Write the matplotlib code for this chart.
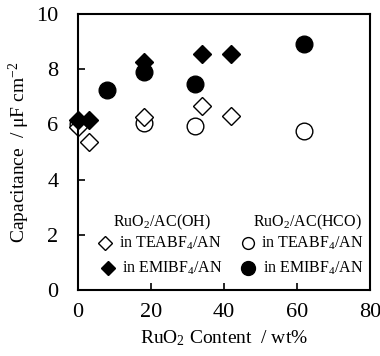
import matplotlib
matplotlib.use("Agg")
import matplotlib.pyplot as plt

plt.rcParams['font.family'] = ['Liberation Serif', 'DejaVu Serif']
plt.rcParams['mathtext.fontset'] = 'custom'
plt.rcParams['mathtext.rm'] = 'Liberation Serif'
plt.rcParams['mathtext.it'] = 'Liberation Serif:italic'

# RuO2/AC(OH)
oh_tea_x = [0, 3, 18, 34, 42]
oh_tea_y = [5.9, 5.35, 6.25, 6.65, 6.3]
oh_emi_x = [0, 3, 18, 34, 42]
oh_emi_y = [6.15, 6.15, 8.25, 8.55, 8.55]
# RuO2/AC(HCO)
hco_tea_x = [0, 18, 32, 62]
hco_tea_y = [6.0, 6.05, 5.95, 5.75]
hco_emi_x = [8, 18, 32, 62]
hco_emi_y = [7.25, 7.9, 7.45, 8.9]

xticks = [0, 20, 40, 60, 80]
yticks = [0, 2, 4, 6, 8, 10]


def draw():
	fig = plt.figure(figsize=(3.8, 3.56), dpi=100)
	ax = fig.add_axes([0.205, 0.185, 0.769, 0.776])

	dsz = 9
	csz = 12
	ax.plot(hco_tea_x, hco_tea_y, 'o', ms=csz, mfc='white', mec='black', mew=1.0, ls='none', clip_on=False)
	ax.plot(oh_tea_x, oh_tea_y, 'D', ms=dsz, mfc='white', mec='black', mew=1.0, ls='none', clip_on=False)
	ax.plot(hco_emi_x, hco_emi_y, 'o', ms=csz, mfc='black', mec='black', ls='none', clip_on=False)
	ax.plot(oh_emi_x, oh_emi_y, 'D', ms=dsz, mfc='black', mec='black', ls='none', clip_on=False)

	ax.set_xlim(0, 80)
	ax.set_ylim(0, 10)
	ax.set_xticks(xticks)
	ax.set_yticks(yticks)
	ax.tick_params(direction='in', length=5, width=1.2, labelsize=16)
	ax.tick_params(axis='x', pad=9)
	ax.tick_params(axis='y', pad=14)
	for s in ax.spines.values():
		s.set_linewidth(1.5)

	ax.set_xlabel('RuO$_2$ Content  / wt%', fontsize=14, labelpad=5)
	ax.set_ylabel('Capacitance  / \u03bcF cm$^{-2}$', fontsize=14, labelpad=3)

	# legend built by hand, two columns
	t = ax.transAxes
	fs = 11.5
	ax.text(0.287, 0.247, 'RuO$_2$/AC(OH)', transform=t, fontsize=fs, ha='center', va='center')
	ax.text(0.787, 0.247, 'RuO$_2$/AC(HCO)', transform=t, fontsize=fs, ha='center', va='center')
	ax.plot([0.092], [0.170], 'D', ms=7, mfc='white', mec='black', mew=1.0, transform=t, clip_on=False)
	ax.plot([0.102], [0.080], 'D', ms=7, mfc='black', mec='black', transform=t, clip_on=False)
	ax.plot([0.582], [0.170], 'o', ms=8.5, mfc='white', mec='black', mew=1.0, transform=t, clip_on=False)
	ax.plot([0.582], [0.080], 'o', ms=10, mfc='black', mec='black', transform=t, clip_on=False)
	ax.text(0.140, 0.170, 'in TEABF$_4$/AN', transform=t, fontsize=fs, va='center')
	ax.text(0.150, 0.080, 'in EMIBF$_4$/AN', transform=t, fontsize=fs, va='center')
	ax.text(0.625, 0.170, 'in TEABF$_4$/AN', transform=t, fontsize=fs, va='center')
	ax.text(0.635, 0.080, 'in EMIBF$_4$/AN', transform=t, fontsize=fs, va='center')

	fig.savefig('out.png', dpi=100)


if __name__ == "__main__":
	draw()
